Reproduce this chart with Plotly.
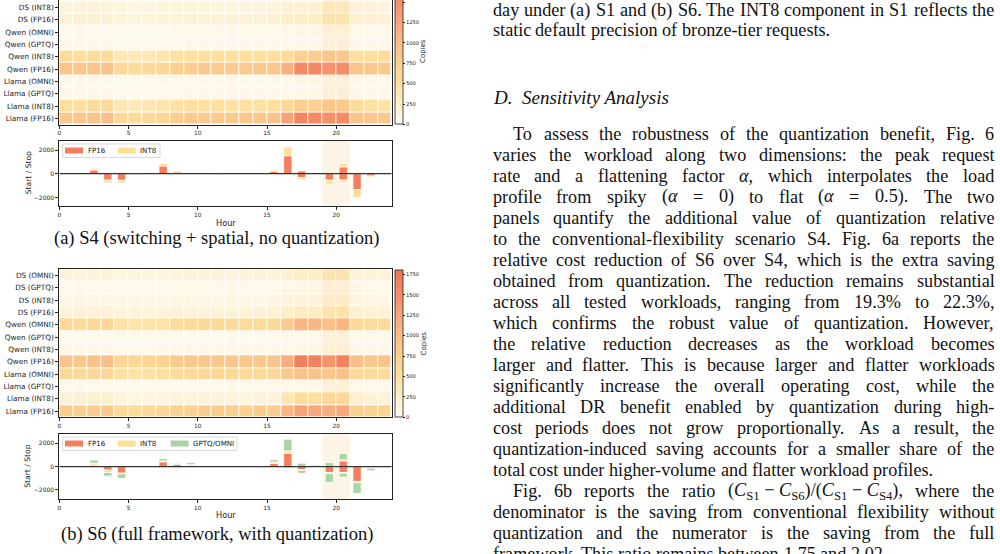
import plotly.graph_objects as go

W, H = 1000, 554
HOURS = list(range(24))
ROWS = ["DS (OMNI)", "DS (GPTQ)", "DS (INT8)", "DS (FP16)",
        "Qwen (OMNI)", "Qwen (GPTQ)", "Qwen (INT8)", "Qwen (FP16)",
        "Llama (OMNI)", "Llama (GPTQ)", "Llama (INT8)", "Llama (FP16)"]
HOUR_TICKS = [0, 5, 10, 15, 20]
PEAK_WINDOW = [19, 21]

# ---- (a) S4 heatmap: copies per model/precision per hour ----
S4_DS_OMNI = [40, 35, 40, 45, 30, 30, 30, 35, 35, 40, 40, 40, 40, 40, 40, 40, 50, 60, 60, 70, 70, 45, 40, 40]
S4_DS_GPTQ = [30, 30, 35, 35, 25, 25, 25, 30, 30, 30, 35, 35, 35, 35, 35, 35, 45, 50, 50, 60, 60, 40, 35, 30]
S4_DS_INT8 = [130, 150, 150, 140, 110, 100, 100, 110, 120, 130, 130, 130, 130, 130, 130, 140, 200, 220, 210, 290, 300, 170, 150, 140]
S4_DS_FP16 = [180, 200, 210, 200, 150, 140, 140, 150, 170, 180, 180, 180, 180, 180, 190, 200, 280, 300, 290, 380, 390, 230, 200, 190]
S4_QWEN_OMNI = [40, 30, 35, 40, 20, 20, 20, 25, 30, 35, 35, 35, 35, 35, 35, 40, 50, 60, 60, 70, 80, 45, 40, 35]
S4_QWEN_GPTQ = [30, 30, 30, 35, 20, 20, 20, 20, 25, 30, 30, 30, 30, 30, 30, 35, 40, 50, 50, 60, 70, 40, 35, 30]
S4_QWEN_INT8 = [560, 540, 580, 600, 380, 370, 380, 420, 480, 500, 520, 520, 500, 500, 500, 520, 600, 760, 800, 860, 830, 520, 520, 560]
S4_QWEN_FP16 = [900, 860, 920, 960, 620, 580, 620, 650, 760, 800, 840, 840, 820, 840, 860, 880, 1150, 1560, 1560, 1500, 1580, 920, 860, 820]
S4_LLAMA_OMNI = [40, 35, 35, 40, 25, 25, 25, 30, 30, 35, 35, 35, 35, 35, 35, 40, 50, 60, 60, 70, 80, 45, 40, 35]
S4_LLAMA_GPTQ = [30, 30, 30, 35, 20, 20, 20, 25, 25, 30, 30, 30, 30, 30, 30, 35, 45, 50, 50, 60, 70, 40, 35, 30]
S4_LLAMA_INT8 = [520, 500, 560, 600, 380, 360, 380, 420, 470, 500, 500, 500, 480, 480, 490, 520, 650, 800, 760, 860, 820, 560, 480, 460]
S4_LLAMA_FP16 = [860, 880, 940, 980, 600, 560, 620, 660, 780, 820, 840, 840, 820, 860, 880, 900, 1280, 1600, 1560, 1540, 1590, 920, 880, 860]

# ---- (b) S6 heatmap ----
S6_DS_OMNI = [150, 140, 160, 170, 120, 110, 110, 120, 140, 150, 150, 150, 150, 150, 160, 170, 240, 300, 280, 360, 380, 190, 160, 150]
S6_DS_GPTQ = [50, 45, 50, 55, 35, 35, 35, 40, 45, 50, 50, 50, 50, 50, 50, 55, 70, 80, 80, 90, 100, 60, 50, 50]
S6_DS_INT8 = [80, 80, 90, 90, 60, 60, 60, 70, 80, 80, 80, 80, 80, 80, 80, 90, 130, 150, 150, 190, 200, 110, 90, 80]
S6_DS_FP16 = [170, 180, 190, 190, 140, 130, 130, 140, 160, 170, 170, 170, 170, 170, 180, 190, 270, 320, 300, 380, 400, 220, 190, 170]
S6_QWEN_OMNI = [600, 580, 620, 640, 470, 430, 440, 460, 560, 580, 600, 600, 580, 580, 580, 600, 820, 1100, 1080, 950, 1100, 620, 560, 560]
S6_QWEN_GPTQ = [30, 25, 30, 30, 20, 20, 20, 20, 25, 25, 25, 25, 25, 25, 25, 30, 40, 50, 50, 60, 70, 35, 30, 30]
S6_QWEN_INT8 = [40, 35, 40, 40, 25, 25, 25, 30, 35, 35, 35, 35, 35, 35, 35, 40, 50, 60, 60, 80, 90, 45, 40, 40]
S6_QWEN_FP16 = [920, 860, 960, 1000, 680, 660, 680, 700, 820, 860, 880, 880, 860, 880, 880, 900, 1180, 1680, 1650, 1500, 1720, 980, 860, 900]
S6_LLAMA_OMNI = [640, 600, 640, 660, 480, 460, 470, 500, 580, 620, 640, 640, 620, 620, 620, 640, 820, 950, 930, 880, 960, 620, 560, 560]
S6_LLAMA_GPTQ = [30, 25, 30, 30, 20, 20, 20, 20, 25, 25, 25, 25, 25, 25, 25, 30, 40, 50, 50, 60, 70, 35, 30, 30]
S6_LLAMA_INT8 = [180, 200, 250, 260, 120, 110, 110, 120, 130, 140, 150, 150, 140, 140, 150, 160, 400, 520, 500, 580, 580, 250, 190, 160]
S6_LLAMA_FP16 = [780, 760, 800, 820, 620, 600, 620, 660, 720, 760, 780, 780, 760, 760, 780, 800, 1100, 1280, 1240, 1200, 1280, 760, 700, 700]

# ---- start / stop bars ----
S4_FP16_START = [0, 0, 320, 0, 0, 0, 0, 660, 150, 0, 0, 0, 0, 0, 0, 220, 1520, 230, 80, 0, 580, 0, 0, 0]
S4_FP16_STOP = [0, 0, 0, -550, -560, -50, 0, 0, 0, 0, 0, -70, 0, 0, 0, 0, 0, -340, 0, -550, -540, -1350, -200, 0]
S4_INT8_START = [0, 0, 150, 0, 0, 0, 0, 200, 120, 60, 0, 0, 0, 0, 0, 20, 740, 0, 30, 0, 300, 0, 0, 0]
S4_INT8_STOP = [0, 0, 0, -230, -240, 0, 0, 0, 0, 0, 0, 0, 0, 0, 0, 0, 0, -140, 0, -330, -220, -660, -100, 0]

S6_FP16_START = [0, 0, 130, 0, 0, 0, 0, 420, 200, 120, 0, 0, 0, 0, 0, 300, 1150, 0, 0, 0, 500, 0, 0, 0]
S6_FP16_STOP = [0, 0, 0, -300, -560, 0, 0, 0, 0, 0, 0, 0, 0, 0, 0, 0, -100, -260, 0, -500, -500, -1270, -100, 0]
S6_INT8_START = [0, 0, 160, 0, 0, 0, 0, 60, 100, 50, 60, 0, 0, 0, 0, 100, 200, 0, 0, 0, 80, 0, 0, 0]
S6_INT8_STOP = [0, 0, 0, -200, -60, 0, 0, 0, 0, 0, 0, 0, 0, 0, 0, 0, 0, -60, 0, -100, -60, -120, -30, 0]
S6_Q_START = [0, 0, 270, 0, 0, 0, 0, 220, 0, 180, 0, 0, 0, 0, 0, 200, 1000, 300, 120, 350, 550, 0, 0, 0]
S6_Q_STOP = [0, 0, 0, -320, -380, 0, 0, 0, 0, 0, 0, 0, 0, 0, 0, 0, 0, -250, 0, -750, -330, -900, -220, 0]

Z_S4 = [S4_DS_OMNI, S4_DS_GPTQ, S4_DS_INT8, S4_DS_FP16, S4_QWEN_OMNI, S4_QWEN_GPTQ,
        S4_QWEN_INT8, S4_QWEN_FP16, S4_LLAMA_OMNI, S4_LLAMA_GPTQ, S4_LLAMA_INT8, S4_LLAMA_FP16]
Z_S6 = [S6_DS_OMNI, S6_DS_GPTQ, S6_DS_INT8, S6_DS_FP16, S6_QWEN_OMNI, S6_QWEN_GPTQ,
        S6_QWEN_INT8, S6_QWEN_FP16, S6_LLAMA_OMNI, S6_LLAMA_GPTQ, S6_LLAMA_INT8, S6_LLAMA_FP16]

# ---- styling ----
C_FP16 = "#F47E5D"
C_INT8 = "#FDDF96"
C_Q = "#A9D5A3"
BAND = "#FEF4E6"
COLORSCALE = [[0.0, "#FFF9EE"], [0.14, "#FEEFCC"], [0.28, "#FDE09D"], [0.42, "#FCD08F"],
              [0.56, "#FABD87"], [0.70, "#F8A679"], [0.84, "#F58D67"], [1.0, "#F07355"]]
ZMAX = 1800
SANS = "DejaVu Sans"
SERIF = "Liberation Serif"
INK = "#222222"


def px_x(p):
    return p / W


def px_y(p):
    return 1 - p / H


X_DOM = [px_x(59.3), px_x(391.7)]
centers = [h + 0.5 for h in HOURS]

fig = go.Figure()


def heat(z, xa, ya, cb_bottom):
    fig.add_trace(go.Heatmap(
        z=z[::-1], x=centers, y=ROWS[::-1], xaxis=xa, yaxis=ya,
        colorscale=COLORSCALE, zmin=0, zmax=ZMAX, xgap=1, ygap=1, hoverinfo="skip",
        colorbar=dict(x=px_x(395), xanchor="left", xpad=0, ypad=0,
                      y=px_y(cb_bottom), yanchor="bottom", len=146.9 / H, lenmode="fraction",
                      thickness=8, outlinewidth=0.8, outlinecolor=INK,
                      tickvals=[0, 250, 500, 750, 1000, 1250, 1500, 1750],
                      ticks="outside", ticklen=2, tickwidth=0.6, tickcolor=INK,
                      tickfont=dict(size=5.2, color=INK, family=SANS))))


heat(Z_S4, "x", "y", 124.5)
heat(Z_S6, "x3", "y3", 417.3)


def nz(vals):
    return [v if v else None for v in vals]


def bars(series, xa, ya):
    for name, vals, color in series:
        fig.add_trace(go.Bar(
            x=centers, y=nz(vals), xaxis=xa, yaxis=ya, width=0.6, name=name,
            marker=dict(color=color, line=dict(color="white", width=0.8)),
            showlegend=False, hoverinfo="skip"))


bars([("FP16", S4_FP16_START, C_FP16), ("INT8", S4_INT8_START, C_INT8),
      ("FP16", S4_FP16_STOP, C_FP16), ("INT8", S4_INT8_STOP, C_INT8)], "x2", "y2")
bars([("FP16", S6_FP16_START, C_FP16), ("INT8", S6_INT8_START, C_INT8),
      ("GPTQ/OMNI", S6_Q_START, C_Q), ("FP16", S6_FP16_STOP, C_FP16),
      ("INT8", S6_INT8_STOP, C_INT8), ("GPTQ/OMNI", S6_Q_STOP, C_Q)], "x4", "y4")

tickstyle = dict(ticks="outside", ticklen=3, tickwidth=0.8, tickcolor=INK,
                 showline=True, linecolor=INK, linewidth=1, showgrid=False,
                 zeroline=False, layer="above traces")
xcommon = dict(domain=X_DOM, range=[0, 24], tickvals=HOUR_TICKS,
               tickfont=dict(size=5.8, color=INK, family=SANS), **tickstyle)
ycat = dict(type="category", tickfont=dict(size=7.3, color=INK, family=SANS), **tickstyle)
ybar = dict(tickvals=[-2000, 0, 2000], tickfont=dict(size=6, color=INK, family=SANS), **tickstyle)

fig.update_layout(
    width=W, height=H, margin=dict(l=0, r=0, t=0, b=0, autoexpand=False), autosize=False,
    paper_bgcolor="white", plot_bgcolor="white", barmode="relative", showlegend=False,
    font=dict(family=SANS, color=INK),
    xaxis=dict(anchor="y", mirror=False, **xcommon),
    yaxis=dict(anchor="x", domain=[px_y(124.5), 1.0], range=[-0.5, -0.5 + 124.5 / 12.33],
               mirror=True, **ycat),
    xaxis2=dict(anchor="y2", mirror=True, **xcommon),
    yaxis2=dict(anchor="x2", domain=[px_y(205.7), px_y(141)], range=[-2700, 2760],
                mirror=True, **ybar),
    xaxis3=dict(anchor="y3", mirror=True, **xcommon),
    yaxis3=dict(anchor="x3", domain=[px_y(417.3), px_y(269.3)], range=[-0.5, 11.5],
                mirror=True, **ycat),
    xaxis4=dict(anchor="y4", mirror=True, **xcommon),
    yaxis4=dict(anchor="x4", domain=[px_y(499.3), px_y(434)], range=[-2800, 2800],
                mirror=True, **ybar),
)

# peak-price window shading and zero lines
for xa, ya in [("x2", "y2"), ("x4", "y4")]:
    fig.add_shape(type="rect", xref=xa, yref=ya + " domain", x0=PEAK_WINDOW[0], x1=PEAK_WINDOW[1],
                  y0=0, y1=1, fillcolor=BAND, line=dict(width=0), layer="below")
    fig.add_shape(type="line", xref=xa, yref=ya, x0=0, x1=24, y0=0, y1=0,
                  line=dict(color="#333333", width=1.3), layer="above")
for xa, ya in [("x", "y"), ("x3", "y3")]:
    fig.add_shape(type="rect", xref=xa, yref=ya + " domain", x0=PEAK_WINDOW[0], x1=PEAK_WINDOW[1],
                  y0=0, y1=1, fillcolor="rgba(250,190,120,0.13)", line=dict(width=0), layer="above")

ann = []


def label(text, x, y, size, angle=0, family=SANS, anchor="center"):
    ann.append(dict(text=text, x=px_x(x), y=px_y(y), xref="paper", yref="paper",
                    showarrow=False, textangle=angle, xanchor=anchor, yanchor="middle",
                    font=dict(size=size, family=family, color=INK if family == SANS else "#111111"),
                    borderpad=0))


# ---- matplotlib-style legends drawn by hand ----
def legend(entries, y_center, box_right):
    fig.add_shape(type="rect", xref="paper", yref="paper", x0=px_x(62.7), x1=px_x(box_right),
                  y0=px_y(y_center + 7), y1=px_y(y_center - 6.5),
                  fillcolor="rgba(255,255,255,0.85)", line=dict(color="#cfcfcf", width=0.8),
                  layer="above")
    for i, (name, color) in enumerate(entries):
        sx = 65 + 52.8 * i
        fig.add_shape(type="rect", xref="paper", yref="paper", x0=px_x(sx), x1=px_x(sx + 18),
                      y0=px_y(y_center + 3), y1=px_y(y_center - 3),
                      fillcolor=color, line=dict(width=0), layer="above")
        label(name, sx + 21.5, y_center, 7.1, anchor="left")


legend([("FP16", C_FP16), ("INT8", C_INT8)], 150.5, 160)
legend([("FP16", C_FP16), ("INT8", C_INT8), ("GPTQ/OMNI", C_Q)], 443.5, 237)

label("Start / Stop", 28, 173.3, 7.6, -90)
label("Start / Stop", 28, 466.7, 7.6, -90)
label("Hour", 225.5, 222.7, 8.2)
label("Hour", 225.5, 515, 8.2)
label("Copies", 423, 51, 7, -90)
label("Copies", 423, 343.5, 7, -90)
label("(a) S4 (switching + spatial, no quantization)", 216, 238.5, 18.5, family=SERIF)
label("(b) S6 (full framework, with quantization)", 216.7, 534, 18.5, family=SERIF)

# ---- right-hand column of body text (justified, Times metrics) ----
TW = {" ": 250, "!": 333, "\"": 408, "#": 500, "$": 500, "%": 833, "&": 778, "'": 333,
      "(": 333, ")": 333, "*": 500, "+": 564, ",": 250, "-": 333, ".": 250, "/": 278,
      ":": 278, ";": 278, "=": 564, "?": 444, "α": 540, "−": 564}
for c in "0123456789":
    TW[c] = 500
for c, w in zip("ABCDEFGHIJKLMNOPQRSTUVWXYZ",
                [722, 667, 667, 722, 611, 556, 722, 722, 333, 389, 722, 611, 889, 722, 722, 556,
                 722, 667, 556, 611, 722, 722, 944, 722, 722, 611]):
    TW[c] = w
for c, w in zip("abcdefghijklmnopqrstuvwxyz",
                [444, 500, 444, 500, 444, 333, 500, 500, 278, 278, 500, 278, 778, 500, 500, 500,
                 500, 333, 389, 278, 500, 500, 722, 500, 500, 444]):
    TW[c] = w

FS = 18.2
LEFT, RIGHT, INDENT = 491.5, 993.5, 20


def width(s):
    total, scale, i = 0.0, 1.0, 0
    while i < len(s):
        if s[i] == "<":
            j = s.index(">", i)
            tag = s[i + 1:j]
            scale = 0.7 if tag == "sub" else (1.0 if tag == "/sub" else scale)
            i = j + 1
            continue
        total += TW.get(s[i], 500) * scale
        i += 1
    return total * FS / 1000


MATH = "(<i>C</i><sub>S1</sub> − <i>C</i><sub>S6</sub>)/(<i>C</i><sub>S1</sub> − <i>C</i><sub>S4</sub>),"
LINES = [
    (10, "day under (a) S1 and (b) S6. The INT8 component in S1 reflects the", False, True),
    (30, "static default precision of bronze-tier requests.", False, False),
    (134, "To assess the robustness of the quantization benefit, Fig. 6", True, True),
    (155, "varies the workload along two dimensions: the peak request", False, True),
    (176, "rate and a flattening factor <i>α</i>, which interpolates the load", False, True),
    (197, "profile from spiky (<i>α</i> = 0) to flat (<i>α</i> = 0.5). The two", False, True),
    (218, "panels quantify the additional value of quantization relative", False, True),
    (239, "to the conventional-flexibility scenario S4. Fig. 6a reports the", False, True),
    (260, "relative cost reduction of S6 over S4, which is the extra saving", False, True),
    (281, "obtained from quantization. The reduction remains substantial", False, True),
    (302, "across all tested workloads, ranging from 19.3% to 22.3%,", False, True),
    (323, "which confirms the robust value of quantization. However,", False, True),
    (344, "the relative reduction decreases as the workload becomes", False, True),
    (365, "larger and flatter. This is because larger and flatter workloads", False, True),
    (386, "significantly increase the overall operating cost, while the", False, True),
    (407, "additional DR benefit enabled by quantization during high-", False, True),
    (428, "cost periods does not grow proportionally. As a result, the", False, True),
    (449, "quantization-induced saving accounts for a smaller share of the", False, True),
    (470, "total cost under higher-volume and flatter workload profiles.", False, False),
    (491, "Fig. 6b reports the ratio " + "@MATH@" + " where the", True, True),
    (512, "denominator is the saving from conventional flexibility without", False, True),
    (533, "quantization and the numerator is the saving from the full", False, True),
    (554, "framework. This ratio remains between 1.75 and 2.02", False, False),
]

for y, text, indent, justify in LINES:
    words = [MATH if w == "@MATH@" else w for w in text.split(" ")]
    x0 = LEFT + (INDENT if indent else 0)
    ws = [width(w) for w in words]
    if justify and len(words) > 1:
        gap = (RIGHT - x0 - sum(ws)) / (len(words) - 1)
    else:
        gap = TW[" "] * FS / 1000
    x = x0
    for w, wd in zip(words, ws):
        label(w, x, y, FS, family=SERIF, anchor="left")
        x += wd + gap

label("<i>D.\u2002Sensitivity Analysis</i>", LEFT, 97, 19, family=SERIF, anchor="left")

fig.update_layout(annotations=ann)
fig.write_html("out.html", config={"displayModeBar": False})
